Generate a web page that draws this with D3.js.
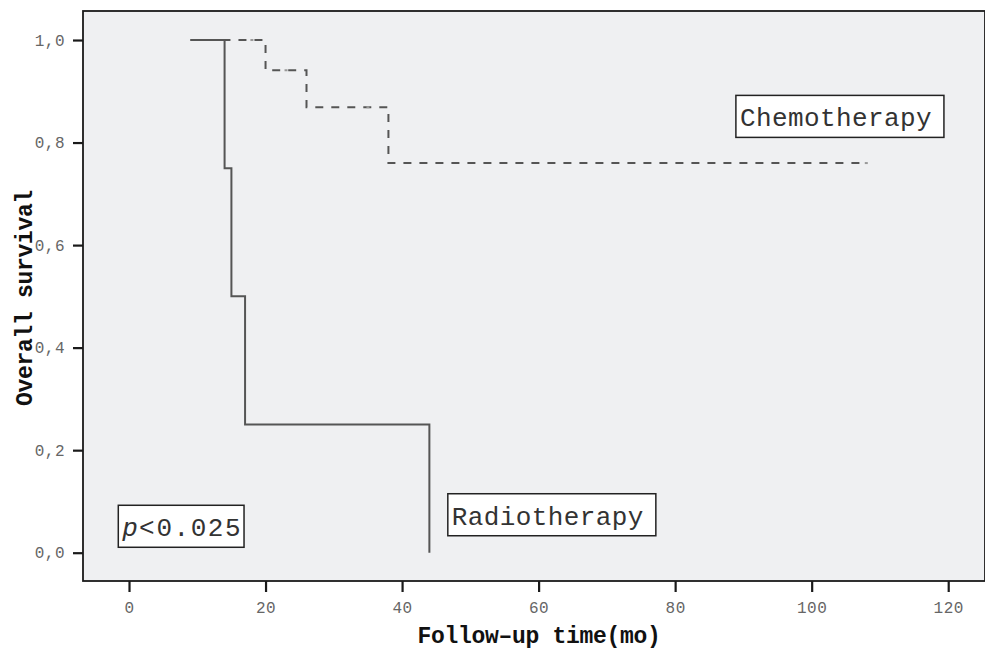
<!DOCTYPE html>
<html>
<head>
<meta charset="utf-8">
<script src="https://cdn.jsdelivr.net/npm/d3@7"></script>
<style>
  html, body { margin: 0; padding: 0; background: #fff; }
  svg { display: block; }
</style>
</head>
<body>
<svg id="chart" width="985" height="654"></svg>
<script>
// ---- data ----
const radioTime = [9, 14, 15, 17, 44];
const radioSurv = [1.0, 0.75, 0.5, 0.25, 0.0];
const chemoTime = [9, 20, 26, 38, 108];
const chemoSurv = [1.0, 0.941, 0.869, 0.76, 0.76];
const chemoCensTime = [18, 23, 35, 108];
const chemoCensSurv = [1.0, 0.941, 0.869, 0.76];
const xTicks = [0, 20, 40, 60, 80, 100, 120];
const yTicks = [0.0, 0.2, 0.4, 0.6, 0.8, 1.0];
const labels = [
  { text: "Chemotherapy", t: 88.9, s: 0.892 },
  { text: "Radiotherapy", t: 46.7, s: 0.115 }
];
const pLabel = { t: -1.57, s: 0.0925 };

// ---- layout ----
const svg = d3.select("#chart");
const plot = { left: 83, right: 985, top: 11, bottom: 581 };
const x = d3.scaleLinear().domain([-6.74, 125.39]).range([plot.left, plot.right]);
const y = d3.scaleLinear().domain([-0.0552, 1.0566]).range([plot.bottom, plot.top]);

const mono = "'Liberation Mono', 'Courier New', monospace";

svg.append("rect")
  .attr("x", plot.left).attr("y", plot.top)
  .attr("width", plot.right - plot.left).attr("height", plot.bottom - plot.top)
  .attr("fill", "#eff0f2").attr("stroke", "#1a1a1a").attr("stroke-width", 1.8);

// axes
const yAxis = d3.axisLeft(y).tickValues(yTicks)
  .tickFormat(d => d.toFixed(1).replace(".", ","))
  .tickSize(10).tickPadding(8);
const gy = svg.append("g").attr("transform", `translate(${plot.left},0)`).call(yAxis);
const xAxis = d3.axisBottom(x).tickValues(xTicks).tickFormat(d3.format("d"))
  .tickSize(11).tickPadding(10);
const gx = svg.append("g").attr("transform", `translate(0,${plot.bottom})`).call(xAxis);
[gx, gy].forEach(g => {
  g.select(".domain").remove();
  g.selectAll(".tick line").attr("stroke", "#1a1a1a").attr("stroke-width", 2.2);
  g.selectAll(".tick text").attr("fill", "#666").attr("font-family", mono)
    .attr("font-size", 16).style("letter-spacing", "0.5px");
});

// curves
const line = d3.line().x(d => x(d[0])).y(d => y(d[1])).curve(d3.curveStepAfter);
svg.append("path")
  .datum(chemoTime.map((t, i) => [t, chemoSurv[i]]))
  .attr("d", line).attr("fill", "none")
  .attr("stroke", "#555").attr("stroke-width", 2)
  .attr("stroke-dasharray", "8,8");
svg.selectAll(".cens").data(chemoCensTime.map((t, i) => [t, chemoCensSurv[i]]))
  .join("rect").attr("class", "cens")
  .attr("x", d => x(d[0]) - 1.5).attr("y", d => y(d[1]) - 1)
  .attr("width", 3).attr("height", 2).attr("fill", "#999");
svg.append("path")
  .datum(radioTime.map((t, i) => [t, radioSurv[i]]))
  .attr("d", line).attr("fill", "none")
  .attr("stroke", "#555").attr("stroke-width", 2);

// labels in boxes
labels.forEach(l => {
  const g = svg.append("g");
  const bx = x(l.t), by = y(l.s);
  const rect = g.append("rect");
  const txt = g.append("text")
    .attr("x", bx + 4).attr("y", by + 31)
    .attr("font-family", mono).attr("font-size", 26).attr("fill", "#333")
    .style("letter-spacing", "0.4px")
    .text(l.text);
  const w = txt.node().getComputedTextLength();
  rect.attr("x", bx).attr("y", by).attr("width", w + 16).attr("height", 42)
    .attr("fill", "#fff").attr("stroke", "#222").attr("stroke-width", 1.5);
});

{
  const bx = x(pLabel.t), by = y(pLabel.s);
  const g = svg.append("g");
  const rect = g.append("rect");
  const txt = g.append("text").attr("x", bx + 4).attr("y", by + 31)
    .attr("font-family", mono).attr("font-size", 26).attr("fill", "#333");
  txt.append("tspan").attr("font-style", "italic").text("p");
  txt.append("tspan").attr("dx", 1).text("<");
  txt.append("tspan").attr("dx", 2).style("letter-spacing", "1.5px").text("0.025");
  const w = txt.node().getComputedTextLength();
  rect.attr("x", bx).attr("y", by).attr("width", w + 9).attr("height", 42)
    .attr("fill", "#fff").attr("stroke", "#222").attr("stroke-width", 1.5);
}

// axis titles
svg.append("text")
  .attr("x", 539).attr("y", 643).attr("text-anchor", "middle")
  .attr("font-family", mono).attr("font-weight", "bold").attr("font-size", 23)
  .attr("fill", "#111").style("letter-spacing", "-0.3px")
  .text("Follow–up time(mo)");
svg.append("text")
  .attr("transform", "translate(32,298) rotate(-90)").attr("text-anchor", "middle")
  .attr("font-family", mono).attr("font-weight", "bold").attr("font-size", 23)
  .attr("fill", "#111").style("letter-spacing", "-0.3px")
  .text("Overall survival");
</script>
</body>
</html>
